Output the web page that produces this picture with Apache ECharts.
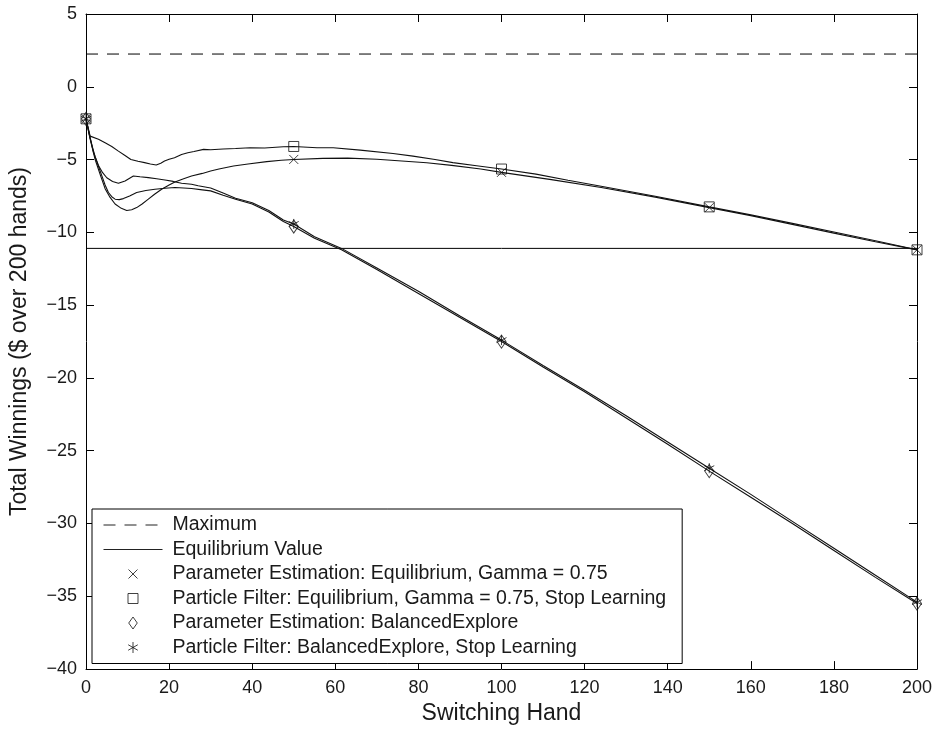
<!DOCTYPE html>
<html>
<head>
<meta charset="utf-8">
<script src="https://cdn.jsdelivr.net/npm/echarts@6/dist/echarts.min.js"></script>
<style>
html,body{margin:0;padding:0;background:#fff;}
#chart{width:936px;height:730px;}
</style>
</head>
<body>
<div id="chart"></div>
<script>
// ---- data ----
const xTicksMin = 0, xTicksMax = 200, xTickStep = 20;
const yTicksMin = -40, yTicksMax = 5, yTickStep = 5;

const maximumValue = 2.25;
const equilibriumValue = -11.1;
const horizontalSpan = [0, 200];

// Parameter Estimation: Equilibrium, Gamma = 0.75  (x)
const peEqHands = [0,1,2.2,3.5,4.6,5.8,7,8.5,9.8,11,12.2,13.5,15,16.5,18.2,20,21.4,23.5,25.4,28,30,32,35.5,39,43.5,47,50,57,63,70,76,82,88,95,100,112,124,137,150,160,170,180,190,200];
const peEqWinnings = [-2.2,-3.6,-5.0,-6.1,-7.0,-7.6,-8.05,-8.35,-8.5,-8.45,-8.3,-8.05,-7.72,-7.38,-7.04,-6.75,-6.54,-6.31,-6.13,-5.95,-5.79,-5.65,-5.44,-5.3,-5.14,-5.05,-4.99,-4.92,-4.9,-4.98,-5.1,-5.22,-5.4,-5.65,-5.88,-6.38,-6.92,-7.58,-8.3,-8.85,-9.45,-10.05,-10.65,-11.2];

// Particle Filter: Equilibrium, Gamma = 0.75, Stop Learning  (square)
const pfEqHands = [0,1,3,4.6,6.2,7.8,9.3,10.8,12.5,14.1,15.5,16.9,18,18.9,20,21.3,23,24.5,26,28.3,30,33,36,39.5,43,47.5,50,55.6,59.5,66,73.9,78.7,84,88.3,94,100,108.3,116,124.3,137,150,160,170,180,190,200];
const pfEqWinnings = [-2.2,-3.39,-3.6,-3.85,-4.1,-4.42,-4.7,-4.99,-5.12,-5.21,-5.3,-5.37,-5.25,-5.1,-4.98,-4.87,-4.65,-4.53,-4.45,-4.3,-4.33,-4.27,-4.24,-4.19,-4.2,-4.12,-4.1,-4.19,-4.19,-4.35,-4.58,-4.76,-5.0,-5.21,-5.42,-5.65,-6.0,-6.42,-6.85,-7.52,-8.25,-8.8,-9.38,-9.98,-10.58,-11.2];

// Parameter Estimation: BalancedExplore  (diamond)
const peBeHands = [0,1,1.8,2.8,3.8,4.6,5.4,6.2,7,8,9,10.5,12.2,14.4,16.6,19,21.4,23.5,25.4,28,30,33,36,40,44,47.5,50,55,61.5,70,80,90,100,110,120,130,140,150,160,170,180,190,200];
const peBeWinnings = [-2.2,-3.5,-4.5,-5.3,-6.1,-6.75,-7.26,-7.55,-7.72,-7.75,-7.68,-7.5,-7.26,-7.12,-7.04,-6.97,-6.92,-6.95,-6.99,-7.08,-7.15,-7.45,-7.72,-8.05,-8.6,-9.25,-9.6,-10.4,-11.2,-12.55,-14.2,-15.85,-17.5,-19.25,-20.95,-22.75,-24.55,-26.4,-28.2,-30.0,-31.85,-33.7,-35.5];

// Particle Filter: BalancedExplore, Stop Learning  (asterisk)
const pfBeHands = [0,0.8,1.5,2.2,3,4,5,6.4,7.8,9.4,11.4,13,15,17,19,21,23,25.4,27,30,33,36,40,44,47.5,50,55,61.5,70,80,90,100,110,120,130,140,150,160,170,180,190,200];
const pfBeWinnings = [-2.2,-3.3,-4.1,-4.8,-5.4,-5.9,-6.25,-6.5,-6.63,-6.47,-6.13,-6.18,-6.24,-6.32,-6.4,-6.5,-6.63,-6.7,-6.8,-6.95,-7.3,-7.65,-7.97,-8.5,-9.15,-9.42,-10.3,-11.1,-12.45,-14.05,-15.75,-17.4,-19.15,-20.85,-22.6,-24.4,-26.2,-28.0,-29.85,-31.7,-33.55,-35.4];

const markerEvery = 50;

const seriesNames = [
  'Maximum',
  'Equilibrium Value',
  'Parameter Estimation: Equilibrium, Gamma = 0.75',
  'Particle Filter: Equilibrium, Gamma = 0.75, Stop Learning',
  'Parameter Estimation: BalancedExplore',
  'Particle Filter: BalancedExplore, Stop Learning'
];

// ---- styling ----
const FONT = 'Liberation Sans, Arial, Helvetica, sans-serif';
const INK = '#000';
const symX = 'path://M0,0L10,10M10,0L0,10';
const symSquare = 'path://M0,0L10,0L10,10L0,10Z';
const symDiamond = 'path://M5,0L10,7L5,14L0,7Z';
const symStar = 'path://M5,0L5,10M0.67,2.5L9.33,7.5M0.67,7.5L9.33,2.5';
// legend icons (12px box, padded so the drawn marks have the reference sizes)
const legX = 'path://M-1.5,-1.5M10.5,10.5M0,0L9,9M9,0L0,9';
const legSquare = 'path://M-1,-1M11,11M0,0L10,0L10,10L0,10Z';
const legDiamond = 'path://M5,0L10,7L5,14L0,7Z';
const legStar = 'path://M-0.5,-0.5M11.5,11.5M5.5,0L5.5,11M0.7,2.75L10.3,8.25M0.7,8.25L10.3,2.75';

const curves = [
  {hands: peEqHands, vals: peEqWinnings, name: seriesNames[2], symbol: symX, size: [9,9], icon: legX},
  {hands: pfEqHands, vals: pfEqWinnings, name: seriesNames[3], symbol: symSquare, size: [10,10], icon: legSquare},
  {hands: peBeHands, vals: peBeWinnings, name: seriesNames[4], symbol: symDiamond, size: [9,13], icon: legDiamond},
  {hands: pfBeHands, vals: pfBeWinnings, name: seriesNames[5], symbol: symStar, size: [10,10], icon: legStar}
];

const pair = (xs, ys) => xs.map((x, i) => [x, ys[i]]);
const minus = v => String(v).replace('-', '\u2212');

const series = [];
series.push({
  name: seriesNames[0], type: 'line', symbol: 'none', silent: true,
  data: horizontalSpan.map(x => [x, maximumValue]),
  itemStyle: {color: INK},
  lineStyle: {color: INK, width: 1, type: [12, 9]}, z: 2
});
series.push({
  name: seriesNames[1], type: 'line', symbol: 'none', silent: true,
  data: horizontalSpan.map(x => [x, equilibriumValue]),
  itemStyle: {color: INK},
  lineStyle: {color: INK, width: 1}, z: 2
});
curves.forEach((c, k) => {
  series.push({
    name: 'curve' + k, type: 'line', symbol: 'none', showSymbol: false, silent: true,
    data: pair(c.hands, c.vals), lineStyle: {color: '#111', width: 1.1}, z: 3
  });
});
curves.forEach(c => {
  series.push({
    name: c.name, type: 'scatter', symbol: c.symbol, symbolSize: c.size, silent: true,
    data: pair(c.hands, c.vals).filter(p => p[0] % markerEvery === 0),
    itemStyle: {color: 'none', borderColor: '#111', borderWidth: 1}, z: 5
  });
});

const axisCommon = {
  axisLine: {show: true, onZero: false, lineStyle: {color: INK, width: 1}},
  axisTick: {show: true, inside: true, length: 8, lineStyle: {color: INK, width: 1}},
  splitLine: {show: false}
};

const legendData = [
  {name: seriesNames[0], itemStyle: {color: 'none', borderColor: 'none', borderWidth: 0},
   lineStyle: {color: '#222', width: 1, type: [12, 9]}},
  {name: seriesNames[1], itemStyle: {color: 'none', borderColor: 'none', borderWidth: 0},
   lineStyle: {color: '#222', width: 1}}
].concat(curves.map(c => ({
  name: c.name, icon: c.icon,
  itemStyle: {color: 'none', borderColor: '#111', borderWidth: 1}
})));

const chart = echarts.init(document.getElementById('chart'), null, {renderer: 'canvas'});
chart.setOption({
  animation: false,
  backgroundColor: '#fff',
  grid: {left: 82, right: 19, top: 14, bottom: 58, containLabel: false},
  xAxis: [
    Object.assign({
      type: 'value', min: xTicksMin, max: xTicksMax, interval: xTickStep, position: 'bottom',
      name: 'Switching Hand', nameLocation: 'middle', nameGap: 28,
      nameTextStyle: {fontFamily: FONT, fontSize: 23, color: '#1a1a1a'},
      axisLabel: {fontFamily: FONT, fontSize: 18, color: '#1a1a1a', margin: 10, formatter: minus}
    }, axisCommon),
    Object.assign({
      type: 'value', min: xTicksMin, max: xTicksMax, interval: xTickStep, position: 'top',
      axisLabel: {show: false}
    }, axisCommon)
  ],
  yAxis: [
    Object.assign({
      type: 'value', min: yTicksMin, max: yTicksMax, interval: yTickStep, position: 'left',
      name: 'Total Winnings ($ over 200 hands)', nameLocation: 'middle', nameGap: 55, nameRotate: 90,
      nameTextStyle: {fontFamily: FONT, fontSize: 23, color: '#1a1a1a'},
      axisLabel: {fontFamily: FONT, fontSize: 18, color: '#1a1a1a', margin: 9, formatter: minus}
    }, axisCommon),
    Object.assign({
      type: 'value', min: yTicksMin, max: yTicksMax, interval: yTickStep, position: 'right',
      axisLabel: {show: false}
    }, axisCommon)
  ],
  legend: {
    show: true, orient: 'vertical', left: 92, top: 509,
    padding: [6, 16, 6, 11], itemWidth: 59, itemHeight: 12, itemGap: 4.5,
    backgroundColor: '#fff', borderColor: INK, borderWidth: 1,
    selectedMode: false,
    lineStyle: {width: 1},
    textStyle: {fontFamily: FONT, fontSize: 19.5, lineHeight: 20, color: '#1a1a1a', padding: [0, 0, 0, 5]},
    data: legendData
  },
  series: series
});
</script>
</body>
</html>
